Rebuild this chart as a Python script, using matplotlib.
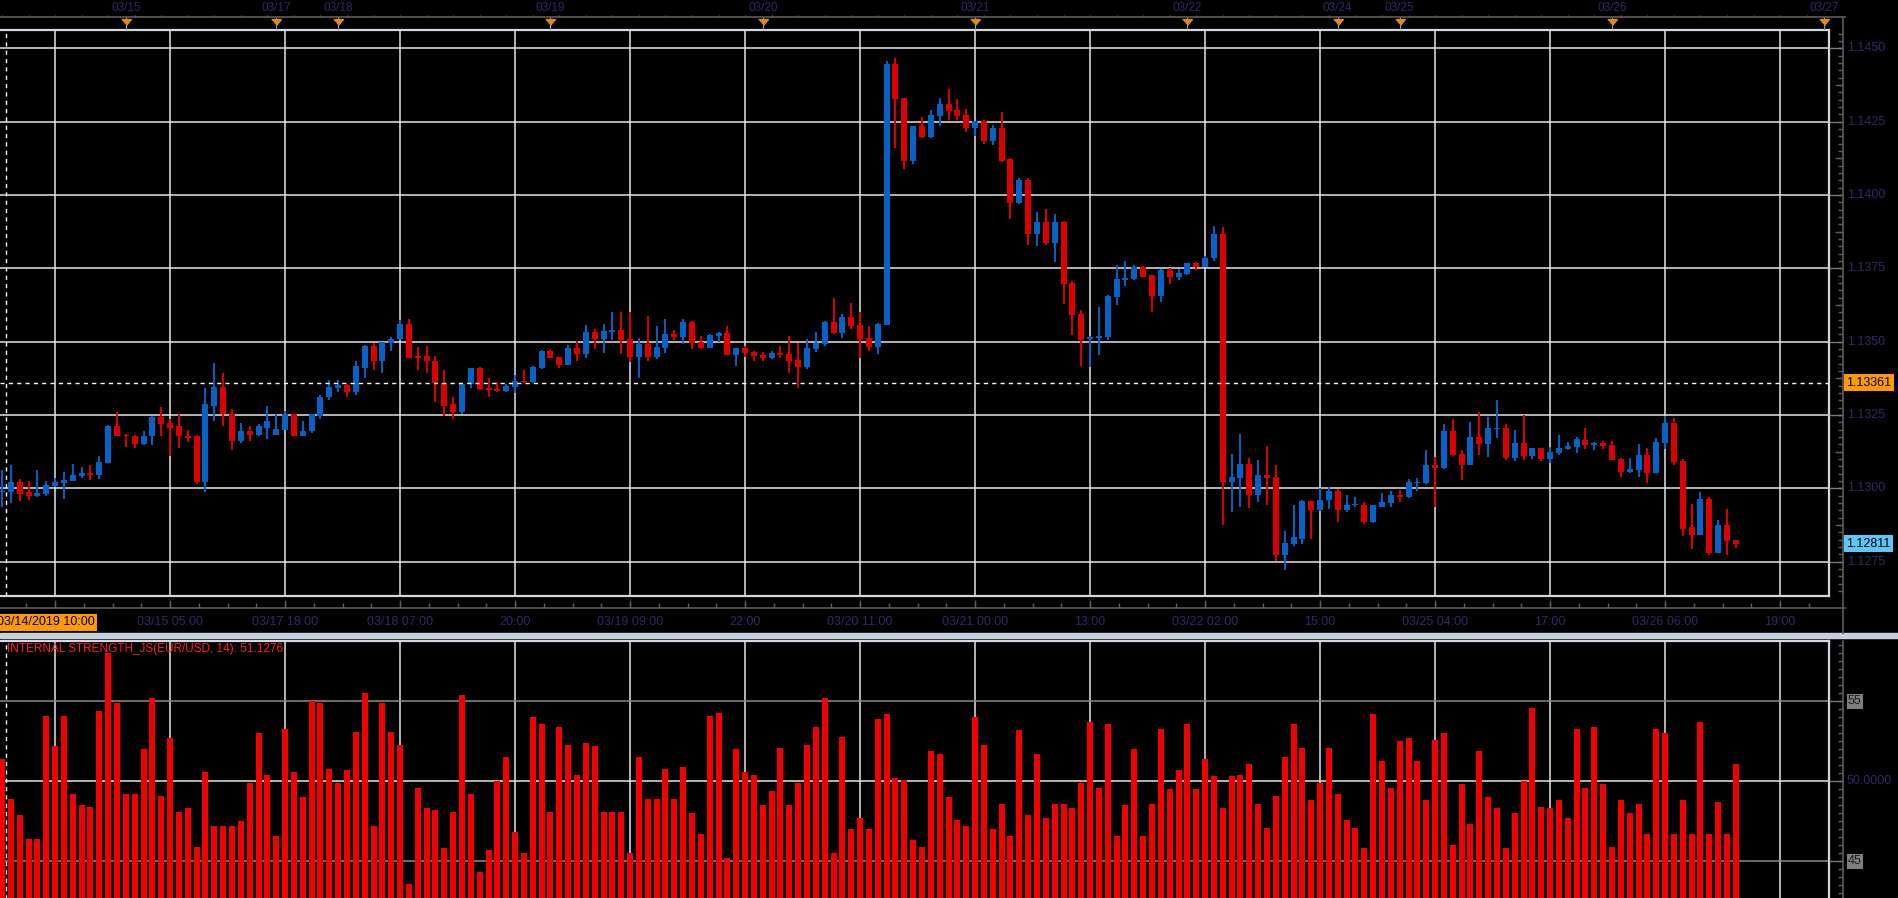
import matplotlib
matplotlib.use('Agg')
import matplotlib.pyplot as plt
import numpy as np
from matplotlib.patches import Rectangle

plt.rcParams['font.family'] = ['Liberation Sans', 'DejaVu Sans']

# hourly EUR/USD candles, 03/14/2019 10:00 .. 03/26 14:00 (weekend skipped)
opens = [1.12987, 1.12989, 1.13023, 1.12986, 1.12975, 1.12982, 1.13009, 1.13019, 1.13026, 1.13043,
         1.13054, 1.13047, 1.13088, 1.13214, 1.13183, 1.13180, 1.13153, 1.13177, 1.13245, 1.13224,
         1.13211, 1.13180, 1.13177, 1.13023, 1.13282, 1.13344, 1.13255, 1.13163, 1.13194, 1.13183,
         1.13207, 1.13183, 1.13200, 1.13252, 1.13180, 1.13194, 1.13248, 1.13310, 1.13341, 1.13354,
         1.13330, 1.13412, 1.13487, 1.13433, 1.13494, 1.13508, 1.13559, 1.13450, 1.13450, 1.13436,
         1.13358, 1.13286, 1.13262, 1.13356, 1.13411, 1.13342, 1.13338, 1.13331, 1.13345, 1.13366,
         1.13362, 1.13411, 1.13469, 1.13448, 1.13421, 1.13479, 1.13459, 1.13534, 1.13510, 1.13534,
         1.13541, 1.13510, 1.13448, 1.13493, 1.13448, 1.13479, 1.13528, 1.13517, 1.13569, 1.13500,
         1.13479, 1.13521, 1.13531, 1.13455, 1.13479, 1.13466, 1.13455, 1.13445, 1.13462, 1.13459,
         1.13438, 1.13414, 1.13476, 1.13493, 1.13569, 1.13531, 1.13586, 1.13558, 1.13514, 1.13483,
         1.13558, 1.14446, 1.14330, 1.14118, 1.14235, 1.14197, 1.14269, 1.14310, 1.14289, 1.14272,
         1.14228, 1.14252, 1.14183, 1.14228, 1.14122, 1.13972, 1.14050, 1.13869, 1.13910, 1.13838,
         1.13910, 1.13702, 1.13596, 1.13510, 1.13514, 1.13517, 1.13654, 1.13712, 1.13715, 1.13756,
         1.13726, 1.13657, 1.13746, 1.13722, 1.13732, 1.13767, 1.13756, 1.13784, 1.13868, 1.13021,
         1.13034, 1.13082, 1.12976, 1.13044, 1.13038, 1.12774, 1.12812, 1.12829, 1.12956, 1.12925,
         1.12959, 1.12990, 1.12925, 1.12942, 1.12945, 1.12884, 1.12938, 1.12949, 1.12979, 1.12969,
         1.13017, 1.13017, 1.13079, 1.13068, 1.13195, 1.13116, 1.13079, 1.13174, 1.13150, 1.13202,
         1.13205, 1.13103, 1.13154, 1.13109, 1.13137, 1.13099, 1.13120, 1.13133, 1.13140, 1.13166,
         1.13149, 1.13156, 1.13149, 1.13101, 1.13057, 1.13064, 1.13115, 1.13054, 1.13156, 1.13224,
         1.13095, 1.12867, 1.12840, 1.12965, 1.12778, 1.12874, 1.12823]
highs = [1.13064, 1.13081, 1.13033, 1.13026, 1.13064, 1.13026, 1.13035, 1.13057, 1.13084, 1.13074,
         1.13081, 1.13112, 1.13215, 1.13259, 1.13184, 1.13181, 1.13194, 1.13246, 1.13279, 1.13235,
         1.13252, 1.13200, 1.13183, 1.13341, 1.13429, 1.13395, 1.13272, 1.13224, 1.13211, 1.13218,
         1.13282, 1.13252, 1.13265, 1.13253, 1.13231, 1.13253, 1.13317, 1.13368, 1.13371, 1.13355,
         1.13436, 1.13488, 1.13494, 1.13499, 1.13516, 1.13573, 1.13576, 1.13481, 1.13484, 1.13453,
         1.13405, 1.13310, 1.13360, 1.13412, 1.13414, 1.13376, 1.13362, 1.13356, 1.13386, 1.13404,
         1.13417, 1.13472, 1.13472, 1.13449, 1.13490, 1.13503, 1.13558, 1.13545, 1.13562, 1.13603,
         1.13600, 1.13600, 1.13514, 1.13589, 1.13552, 1.13576, 1.13541, 1.13579, 1.13570, 1.13521,
         1.13525, 1.13532, 1.13555, 1.13480, 1.13486, 1.13467, 1.13466, 1.13469, 1.13486, 1.13521,
         1.13497, 1.13510, 1.13534, 1.13570, 1.13648, 1.13596, 1.13631, 1.13603, 1.13552, 1.13565,
         1.14457, 1.14467, 1.14331, 1.14236, 1.14265, 1.14289, 1.14330, 1.14361, 1.14327, 1.14293,
         1.14253, 1.14255, 1.14238, 1.14282, 1.14125, 1.14057, 1.14057, 1.13941, 1.13954, 1.13937,
         1.13911, 1.13708, 1.13609, 1.13518, 1.13620, 1.13658, 1.13760, 1.13777, 1.13763, 1.13757,
         1.13729, 1.13747, 1.13753, 1.13749, 1.13768, 1.13773, 1.13794, 1.13893, 1.13892, 1.13116,
         1.13185, 1.13103, 1.13096, 1.13144, 1.13079, 1.12856, 1.12945, 1.12962, 1.12957, 1.13000,
         1.13003, 1.12997, 1.12976, 1.12969, 1.12952, 1.12943, 1.12983, 1.12990, 1.12993, 1.13031,
         1.13034, 1.13130, 1.13106, 1.13219, 1.13236, 1.13130, 1.13226, 1.13260, 1.13243, 1.13301,
         1.13219, 1.13198, 1.13249, 1.13138, 1.13138, 1.13140, 1.13181, 1.13157, 1.13174, 1.13207,
         1.13157, 1.13163, 1.13163, 1.13105, 1.13105, 1.13152, 1.13139, 1.13173, 1.13248, 1.13241,
         1.13101, 1.12948, 1.12986, 1.12972, 1.12891, 1.12931, 1.12823]
lows = [1.12935, 1.12951, 1.12958, 1.12961, 1.12972, 1.12975, 1.13003, 1.12965, 1.13024, 1.13036,
        1.13030, 1.13033, 1.13087, 1.13177, 1.13142, 1.13136, 1.13149, 1.13149, 1.13180, 1.13112,
        1.13139, 1.13159, 1.13016, 1.12989, 1.13231, 1.13211, 1.13132, 1.13156, 1.13163, 1.13177,
        1.13170, 1.13182, 1.13199, 1.13179, 1.13179, 1.13190, 1.13235, 1.13300, 1.13330, 1.13310,
        1.13320, 1.13375, 1.13402, 1.13392, 1.13467, 1.13507, 1.13445, 1.13405, 1.13395, 1.13296,
        1.13248, 1.13235, 1.13255, 1.13342, 1.13337, 1.13311, 1.13330, 1.13330, 1.13325, 1.13361,
        1.13361, 1.13407, 1.13444, 1.13411, 1.13420, 1.13435, 1.13445, 1.13476, 1.13462, 1.13507,
        1.13459, 1.13431, 1.13376, 1.13435, 1.13441, 1.13462, 1.13507, 1.13493, 1.13476, 1.13476,
        1.13478, 1.13500, 1.13454, 1.13417, 1.13448, 1.13435, 1.13435, 1.13441, 1.13445, 1.13393,
        1.13342, 1.13407, 1.13466, 1.13486, 1.13528, 1.13514, 1.13545, 1.13445, 1.13469, 1.13459,
        1.13557, 1.14159, 1.14088, 1.14105, 1.14196, 1.14196, 1.14235, 1.14255, 1.14255, 1.14214,
        1.14200, 1.14173, 1.14170, 1.14112, 1.13917, 1.13968, 1.13831, 1.13828, 1.13831, 1.13773,
        1.13630, 1.13524, 1.13418, 1.13415, 1.13456, 1.13507, 1.13626, 1.13691, 1.13712, 1.13721,
        1.13603, 1.13637, 1.13698, 1.13712, 1.13729, 1.13743, 1.13755, 1.13777, 1.12874, 1.12918,
        1.12938, 1.12932, 1.12952, 1.12942, 1.12754, 1.12723, 1.12805, 1.12812, 1.12826, 1.12924,
        1.12928, 1.12884, 1.12918, 1.12938, 1.12880, 1.12883, 1.12937, 1.12938, 1.12952, 1.12968,
        1.12990, 1.13016, 1.12935, 1.13067, 1.13112, 1.13027, 1.13078, 1.13113, 1.13106, 1.13171,
        1.13096, 1.13092, 1.13096, 1.13099, 1.13092, 1.13085, 1.13113, 1.13132, 1.13120, 1.13135,
        1.13132, 1.13135, 1.13098, 1.13040, 1.13054, 1.13040, 1.13020, 1.13054, 1.13135, 1.13078,
        1.12836, 1.12792, 1.12840, 1.12772, 1.12778, 1.12772, 1.12795]
closes = [1.12992, 1.13023, 1.12982, 1.12975, 1.12985, 1.13013, 1.13023, 1.13030, 1.13047, 1.13054,
          1.13047, 1.13091, 1.13214, 1.13180, 1.13177, 1.13153, 1.13180, 1.13245, 1.13221, 1.13207,
          1.13177, 1.13173, 1.13023, 1.13286, 1.13344, 1.13252, 1.13163, 1.13194, 1.13183, 1.13211,
          1.13231, 1.13204, 1.13252, 1.13180, 1.13197, 1.13252, 1.13313, 1.13344, 1.13354, 1.13330,
          1.13416, 1.13487, 1.13433, 1.13498, 1.13511, 1.13559, 1.13446, 1.13446, 1.13433, 1.13358,
          1.13282, 1.13262, 1.13356, 1.13411, 1.13338, 1.13336, 1.13331, 1.13349, 1.13366, 1.13362,
          1.13414, 1.13469, 1.13445, 1.13421, 1.13479, 1.13459, 1.13534, 1.13510, 1.13538, 1.13541,
          1.13507, 1.13448, 1.13493, 1.13448, 1.13483, 1.13528, 1.13517, 1.13569, 1.13497, 1.13479,
          1.13524, 1.13531, 1.13455, 1.13479, 1.13462, 1.13452, 1.13445, 1.13462, 1.13455, 1.13435,
          1.13414, 1.13479, 1.13497, 1.13569, 1.13531, 1.13586, 1.13555, 1.13510, 1.13483, 1.13562,
          1.14446, 1.14327, 1.14118, 1.14235, 1.14197, 1.14272, 1.14310, 1.14286, 1.14269, 1.14228,
          1.14252, 1.14183, 1.14228, 1.14118, 1.13972, 1.14050, 1.13869, 1.13910, 1.13838, 1.13910,
          1.13698, 1.13592, 1.13507, 1.13517, 1.13521, 1.13657, 1.13715, 1.13719, 1.13756, 1.13722,
          1.13657, 1.13746, 1.13722, 1.13736, 1.13767, 1.13756, 1.13787, 1.13866, 1.13021, 1.13038,
          1.13082, 1.12976, 1.13044, 1.13034, 1.12774, 1.12815, 1.12833, 1.12956, 1.12925, 1.12962,
          1.12990, 1.12925, 1.12945, 1.12945, 1.12884, 1.12942, 1.12952, 1.12979, 1.12969, 1.13021,
          1.13021, 1.13079, 1.13068, 1.13195, 1.13113, 1.13079, 1.13174, 1.13150, 1.13205, 1.13205,
          1.13103, 1.13154, 1.13109, 1.13137, 1.13099, 1.13123, 1.13137, 1.13144, 1.13167, 1.13149,
          1.13156, 1.13146, 1.13098, 1.13057, 1.13067, 1.13115, 1.13054, 1.13159, 1.13224, 1.13091,
          1.12863, 1.12840, 1.12965, 1.12778, 1.12874, 1.12819, 1.12809]

# INTERNAL STRENGTH indicator, one value per candle
strength = [51.4, 48.9, 47.9, 46.4, 46.4, 54.1, 52.2, 54.1, 49.2, 48.5,
            48.4, 54.4, 58.0, 54.9, 49.2, 49.2, 52.0, 55.2, 49.1, 52.7,
            48.1, 48.3, 45.9, 50.6, 47.2, 47.2, 47.2, 47.5, 49.9, 53.0,
            50.4, 46.6, 53.3, 50.6, 49.0, 55.0, 54.9, 50.8, 49.9, 50.7,
            53.1, 55.5, 47.2, 54.9, 53.1, 52.3, 43.6, 49.6, 48.3, 48.2,
            45.8, 48.1, 55.4, 49.2, 44.3, 45.7, 50.0, 51.5, 46.8, 45.5,
            54.0, 53.6, 48.1, 53.4, 52.3, 50.4, 52.4, 52.2, 48.1, 48.1,
            48.1, 45.5, 51.5, 48.9, 48.9, 50.8, 48.9, 50.9, 48.0, 46.7,
            54.1, 54.3, 45.2, 52.0, 50.6, 50.4, 48.5, 49.4, 52.1, 48.5,
            49.9, 52.3, 53.4, 55.2, 45.5, 52.8, 47.0, 47.7, 47.0, 53.9,
            54.2, 50.2, 50.1, 46.3, 45.9, 51.9, 51.7, 49.0, 47.6, 47.2,
            54.0, 52.3, 47.0, 48.6, 46.6, 53.2, 47.9, 51.7, 47.7, 48.6,
            48.6, 48.3, 49.9, 53.7, 49.6, 53.6, 46.6, 48.5, 52.0, 46.6,
            48.6, 53.3, 49.5, 50.7, 53.6, 49.5, 51.4, 50.3, 48.3, 50.3,
            50.4, 51.1, 48.6, 47.1, 49.1, 51.5, 53.6, 52.1, 48.8, 49.9,
            52.1, 49.2, 47.6, 47.1, 45.8, 54.2, 51.3, 49.6, 52.5, 52.7,
            51.3, 48.8, 52.6, 53.0, 46.0, 49.8, 47.3, 51.9, 49.0, 48.3,
            45.8, 48.0, 50.0, 54.6, 48.4, 48.3, 48.8, 47.7, 53.3, 49.6,
            53.4, 49.8, 45.9, 48.8, 48.0, 48.6, 46.7, 53.3, 53.0, 46.7,
            48.8, 46.7, 53.7, 46.7, 48.7, 46.7, 51.1]

grid_idx = [6 + 13 * k for k in range(16)]
time_idx = [19, 32, 45, 58, 71, 84, 97, 110, 123, 136, 149, 162, 175, 188, 201]
time_labels = ['03/15 05:00', '03/17 18:00', '03/18 07:00', '20:00', '03/19 09:00', '22:00',
               '03/20 11:00', '03/21 00:00', '13:00', '03/22 02:00', '15:00', '03/25 04:00',
               '17:00', '03/26 06:00', '19:00']
day_idx = [14, 31, 38, 62, 86, 110, 134, 151, 158, 182, 206]
day_labels = ['03/15', '03/17', '03/18', '03/19', '03/20', '03/21', '03/22', '03/24',
              '03/25', '03/26', '03/27']
price_ticks = [1.1275, 1.1300, 1.1325, 1.1350, 1.1375, 1.1400, 1.1425, 1.1450]
strength_ticks = [45, 50, 55]
cursor_price = 1.13361
last_price = 1.12811
cursor_time = '03/14/2019 10:00'
indicator_name = 'INTERNAL STRENGTH_JS(EUR/USD, 14): 51.1276'

W, H = 1899, 898
SP = 8.846                      # pixels per candle
XL = (-2 / SP, 1827 / SP)
PY = (1.12633, 1.14563)
SY = (42.58, 58.77)
UP, DOWN = '#0562c6', '#dd0000'
FRAME = '#d2d9e2'
NAVY = '#2b2b68'
GRID = '#e4e4e4'
AXLINE = '#5c5c5c'

fig = plt.figure(figsize=(W / 100, H / 100), dpi=100, facecolor='black')


def box(x0, y0, x1, y1):
    # axes from a pixel box, origin top-left
    a = fig.add_axes([x0 / W, 1 - y1 / H, (x1 - x0) / W, (y1 - y0) / H])
    a.set_facecolor('black')
    return a


def strip(x0, y0, x1, y1):
    a = box(x0, y0, x1, y1)
    a.patch.set_visible(False)
    a.axis('off')
    return a


# ---- price panel
ax = box(0, 30, 1829, 596)
ax.set_xlim(*XL)
ax.set_ylim(*PY)
for k in grid_idx:
    ax.axvline(k, color=GRID, lw=1.1, zorder=0)
for p in price_ticks:
    ax.axhline(p, color=GRID, lw=1.1, zorder=0)

o, h, l, c = (np.array(v) for v in (opens, highs, lows, closes))
idx = np.arange(len(o))
col = np.where(c >= o, UP, DOWN)
ax.vlines(idx, l, h, colors=col, lw=1.4, zorder=2)
ax.bar(idx, np.maximum(np.abs(c - o), 0.00005), bottom=np.minimum(o, c),
       width=0.68, color=col, zorder=3)

ax.axhline(cursor_price, color='white', lw=1.0, ls=(0, (3, 3)), zorder=4)
ax.axvline(0.45, color='white', lw=1.0, ls=(0, (3, 3)), zorder=4)
ax.set_xticks([])
ax.set_yticks([])
for s in ax.spines.values():
    s.set_color(FRAME)
    s.set_linewidth(1.6)
ax.spines['left'].set_visible(False)

# ---- indicator panel
ax2 = box(0, 641, 1829, 900)
ax2.set_xlim(*XL)
ax2.set_ylim(*SY)
for k in grid_idx:
    ax2.axvline(k, color=GRID, lw=1.1, zorder=0)
ax2.axhline(55, color='#8c8c8c', lw=1.1, zorder=0)
ax2.axhline(50, color=GRID, lw=1.1, zorder=0)
ax2.axhline(45, color='#8c8c8c', lw=1.1, zorder=0)
ax2.bar(np.arange(len(strength)), strength, width=0.68, color='#f20000', zorder=2)
ax2.axvline(0.45, color='white', lw=1.0, ls=(0, (3, 3)), zorder=4)
ax2.set_xticks([])
ax2.set_yticks([])
for s in ax2.spines.values():
    s.set_color(FRAME)
    s.set_linewidth(1.6)
ax2.spines['left'].set_visible(False)
ax2.spines['bottom'].set_visible(False)

# ---- top date strip
axt = strip(0, 0, 1829, 30)
axt.set_xlim(*XL)
axt.set_ylim(30, 0)
axt.vlines(np.arange(0, 207, 3), 14.5, 17, color=AXLINE, lw=1)
tri = [(-1, 0.6), (1, 0.6), (0, -0.6)]
for i, lab in zip(day_idx, day_labels):
    axt.vlines(i, 17, 30, color='#9a9a9a', lw=0.8)
    axt.plot(i, 21.5, marker=tri, ms=7, color='#e48b0d', clip_on=False)
    axt.text(i, 8, lab, ha='center', va='center', fontsize=8.5, color=NAVY, clip_on=False)

# ---- bottom time strip
axb = strip(0, 596, 1829, 633)
axb.set_xlim(*XL)
axb.set_ylim(633, 596)
axb.vlines(np.arange(-0.5, 207, 13 / 4), 603, 608, color=AXLINE, lw=1)
axb.vlines(grid_idx, 600, 608, color=AXLINE, lw=1)
for i, lab in zip(time_idx, time_labels):
    axb.text(i, 622, lab, ha='center', va='center', fontsize=9, color=NAVY)

# ---- right price scale
axr = strip(1829, 30, 1899, 596)
axr.set_xlim(1829, 1899)
axr.set_ylim(*PY)
minor = np.arange(1.1265, 1.1457, 0.00025)
axr.hlines(minor, 1838, 1843, color=AXLINE, lw=1)
axr.hlines(np.arange(1.12625, 1.1457, 0.0025), 1835, 1843, color=AXLINE, lw=1)
axr.hlines(price_ticks, 1829, 1843, color='#7a7a7a', lw=1)
for p in price_ticks:
    axr.text(1847, p, '%.4f' % p, ha='left', va='center', fontsize=9, color=NAVY)
axr.text(1846, cursor_price, '%.5f' % cursor_price, ha='left', va='center', fontsize=9,
         color='black', bbox=dict(boxstyle='square,pad=0.2', fc='#ff9900', ec='none'))
axr.text(1846, last_price, '%.5f' % last_price, ha='left', va='center', fontsize=9,
         color='black', bbox=dict(boxstyle='square,pad=0.2', fc='#5cc8f7', ec='none'))

# ---- right indicator scale
axs = strip(1829, 641, 1899, 900)
axs.set_xlim(1829, 1899)
axs.set_ylim(*SY)
axs.hlines(np.arange(43, 58.6, 0.5), 1838, 1843, color=AXLINE, lw=1)
axs.hlines(strength_ticks, 1829, 1843, color='#7a7a7a', lw=1)
axs.text(1848, 55, '55', ha='left', va='center', fontsize=9, color='#1c1c1c',
         bbox=dict(boxstyle='square,pad=0.12', fc='#7e7e7e', ec='none'))
axs.text(1847, 50, '50.0000', ha='left', va='center', fontsize=9, color=NAVY)
axs.text(1848, 45, '45', ha='left', va='center', fontsize=9, color='#1c1c1c',
         bbox=dict(boxstyle='square,pad=0.12', fc='#7e7e7e', ec='none'))

# ---- pixel overlay: scale lines, separator, labels
ov = strip(0, 0, W, H)
ov.set_xlim(0, W)
ov.set_ylim(H, 0)
ov.plot([0, 1845], [17, 17], color=AXLINE, lw=1.2)
ov.plot([0, 1845], [608, 608], color=AXLINE, lw=1.2)
ov.plot([1843, 1843], [17, 633], color=AXLINE, lw=1.2)
ov.plot([1843, 1843], [641, H], color=AXLINE, lw=1.2)
ov.add_patch(Rectangle((0, 633), W, 4.5, color='#c5d1de'))
ov.text(-3, 622, cursor_time, ha='left', va='center', fontsize=9, color='black',
        bbox=dict(boxstyle='square,pad=0.2', fc='#ff9900', ec='none'))
ov.text(7, 649, indicator_name, ha='left', va='center', fontsize=8.5, color='#ff2020')

fig.savefig('out.png', dpi=100, facecolor='black')
